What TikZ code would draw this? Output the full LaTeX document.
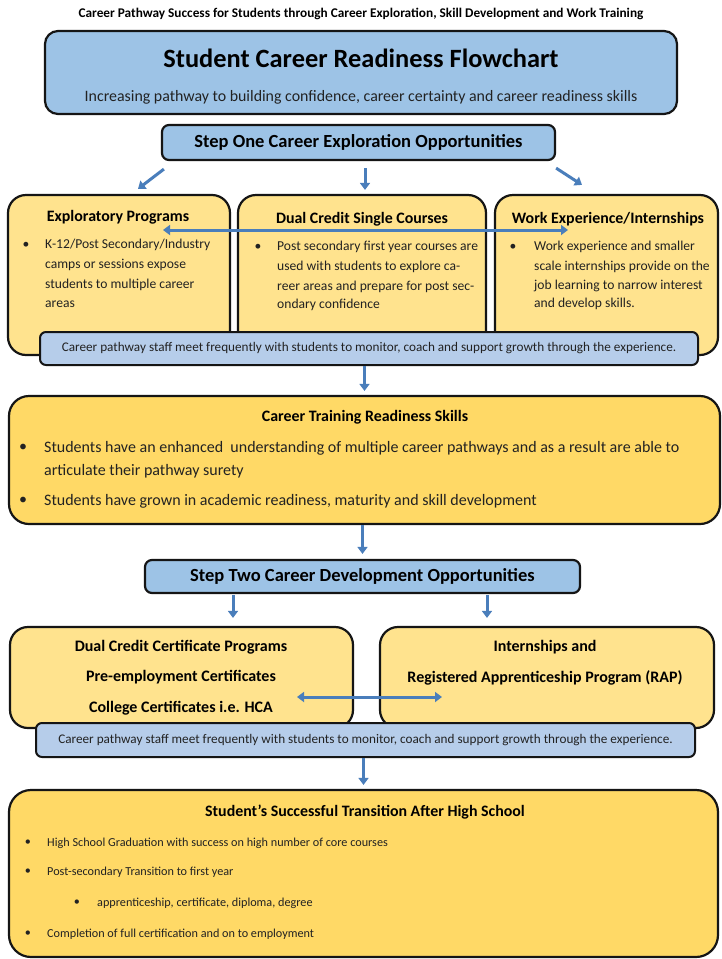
\documentclass[tikz,border=0pt]{standalone}
\usepackage{fontspec}
\setmainfont{Carlito}
\usetikzlibrary{arrows.meta,calc}
\definecolor{bluebox}{HTML}{9DC3E6}
\definecolor{bluestrip}{HTML}{B6CDEA}
\definecolor{yellowlight}{HTML}{FFE38E}
\definecolor{yellowdark}{HTML}{FFD966}
\definecolor{edge}{HTML}{151515}
\definecolor{arrowblue}{HTML}{4A7EBB}
\definecolor{bodytext}{HTML}{222222}
\tikzset{
  box/.style={draw=edge, line width=2.2pt, rounded corners=#1, inner sep=0pt},
  box/.default=14pt,
  arr/.style={draw=arrowblue, line width=3pt, -{Triangle[width=10pt,length=7pt]}},
  darr/.style={draw=arrowblue, line width=3pt, {Triangle[width=10pt,length=7pt]}-{Triangle[width=10pt,length=7pt]}},
  txt/.style={inner sep=0pt, text=bodytext},
  ln/.style={inner sep=0pt, anchor=west, text=bodytext},
  bul/.style={inner sep=0pt, text=bodytext},
  fA/.style={font=\fontsize{13.3}{16}\selectfont\bfseries},
  fTitle/.style={font=\fontsize{26.4}{30}\selectfont\bfseries},
  fSub/.style={font=\fontsize{15.9}{19}\selectfont},
  fStep/.style={font=\fontsize{18.5}{22}\selectfont\bfseries},
  fHead/.style={font=\fontsize{15.9}{19}\selectfont\bfseries},
  fBody/.style={font=\fontsize{13.6}{16}\selectfont},
  fStrip/.style={font=\fontsize{13.2}{16}\selectfont},
  fCT/.style={font=\fontsize{16}{19}\selectfont},
  fCTh/.style={font=\fontsize{15.9}{19}\selectfont\bfseries},
  fLow/.style={font=\fontsize{16}{19}\selectfont\bfseries},
  fFin/.style={font=\fontsize{12.2}{15}\selectfont},
  fFinh/.style={font=\fontsize{15.9}{19}\selectfont\bfseries},
}
\begin{document}
\begin{tikzpicture}[x=1pt,y=-1pt]
\useasboundingbox[fill=white] (0,0) rectangle (721,959);

% caption
\node[txt,fA,text=black] (cap) at (361,14) {Career Pathway Success for Students through Career Exploration, Skill Development and Work Training};

% title box
\node[box=13pt, fill=bluebox, minimum width=632pt, minimum height=83pt] (title) at (361,72.5) {};
\node[txt,fTitle,text=black] (titletxt) at (361,58) {Student Career Readiness Flowchart};
\node[txt,fSub] (subtxt) at (361,97) {Increasing pathway to building confidence, career certainty and career readiness skills};

% step one
\node[box=7pt, fill=bluebox, minimum width=393pt, minimum height=35pt, fStep, text=black] (s1) at (358.5,142.5) {Step One Career Exploration Opportunities};

% three boxes
\node[box=18pt, fill=yellowlight, minimum width=222pt, minimum height=160pt] (b1) at (119,275) {};
\node[box=18pt, fill=yellowlight, minimum width=248pt, minimum height=160pt] (b2) at (362,275) {};
\node[box=18pt, fill=yellowlight, minimum width=223pt, minimum height=160pt] (b3) at (606.5,275) {};

\draw[arr] ([xshift=3pt,yshift=-8pt]s1.south west) -- ([xshift=19pt,yshift=5pt]b1.north);
\draw[arr] ([xshift=6.5pt,yshift=-7pt]s1.south) -- ([xshift=3pt,yshift=4pt]b2.north);
\draw[arr] ([yshift=-7pt]s1.south east) -- ([xshift=-24.5pt,yshift=9pt]b3.north);

\node[txt,fHead,text=black] (h1) at (118,217) {Exploratory Programs};
\node[txt,fHead,text=black] (h2) at (362,219) {Dual Credit Single Courses};
\node[txt,fHead,text=black] (h3) at (608,219) {Work Experience/Internships};

\coordinate (dl) at (163,230);
\coordinate (dr) at (568,230);
\draw[darr] (dl) -- (dr);

\node[bul,fBody] (bu1) at (26,245) {•};
\node[ln,fBody] (l1a) at (45,245) {K-12/Post Secondary/Industry};
\node[ln,fBody] (l1b) at (45,265) {camps or sessions expose};
\node[ln,fBody] (l1c) at (45,285) {students to multiple career};
\node[ln,fBody] (l1d) at (45,304) {areas};

\node[bul,fBody] (bu2) at (258,247) {•};
\node[ln,fBody] (l2a) at (277,247) {Post secondary first year courses are};
\node[ln,fBody] (l2b) at (277,267) {used with students to explore ca-};
\node[ln,fBody] (l2c) at (277,287) {reer areas and prepare for post sec-};
\node[ln,fBody] (l2d) at (277,305) {ondary confidence};

\node[bul,fBody] (bu3) at (513,247) {•};
\node[ln,fBody] (l3a) at (534,247) {Work experience and smaller};
\node[ln,fBody] (l3b) at (534,267) {scale internships provide on the};
\node[ln,fBody] (l3c) at (534,286) {job learning to narrow interest};
\node[ln,fBody] (l3d) at (534,304) {and develop skills.};

% strip 1
\node[box=6pt, line width=2pt, fill=bluestrip, minimum width=658pt, minimum height=33pt, fStrip, text=bodytext] (st1) at (369,348.5) {Career pathway staff meet frequently with students to monitor, coach and support growth through the experience.};

% career training
\node[box=20pt, fill=yellowdark, minimum width=711pt, minimum height=128pt] (ct) at (364.5,460) {};
\draw[arr] (ct.north |- st1.south) -- ([yshift=4pt]ct.north);
\node[txt,fCTh,text=black] (cth) at (365,417) {Career Training Readiness Skills};
\node[bul,fCT] (bu4) at (23,448) {•};
\node[ln,fCT] (l4a) at (44,448) {Students have an enhanced\ \ understanding of multiple career pathways and as a result are able to};
\node[ln,fCT] (l4b) at (44,471) {articulate their pathway surety};
\node[bul,fCT] (bu5) at (23,501) {•};
\node[ln,fCT] (l5a) at (44,501) {Students have grown in academic readiness, maturity and skill development};

% step two
\node[box=7pt, fill=bluebox, minimum width=435pt, minimum height=33pt, fStep, text=black] (s2) at (362.5,576.5) {Step Two Career Development Opportunities};
\draw[arr] (s2.north |- ct.south) -- ([yshift=5pt]s2.north);

% lower boxes
\node[box=18pt, fill=yellowlight, minimum width=343pt, minimum height=101pt] (ba) at (181.5,677.5) {};
\node[box=18pt, fill=yellowlight, minimum width=334pt, minimum height=101pt] (bb) at (547,677.5) {};
\draw[arr] ([xshift=-129.5pt,yshift=-1pt]s2.south) -- ([xshift=51.5pt,yshift=8pt]ba.north);
\draw[arr] ([xshift=124.5pt,yshift=-1pt]s2.south) -- ([xshift=-60pt,yshift=8pt]bb.north);

\node[txt,fLow,text=black] (la1) at (181,647) {Dual Credit Certificate Programs};
\node[txt,fLow,text=black] (la2) at (181,677) {Pre-employment Certificates};
\node[txt,fLow,text=black] (la3) at (181,708) {College Certificates i.e. HCA};
\node[txt,fLow,text=black] (lb1) at (545,647) {Internships and};
\node[txt,fLow,text=black] (lb2) at (545,678) {Registered Apprenticeship Program (RAP)};

\coordinate (el) at (297,697);
\coordinate (er) at (442,697);
\draw[darr] (el) -- (er);

% strip 2
\node[box=6pt, line width=2pt, fill=bluestrip, minimum width=659pt, minimum height=34pt, fStrip, text=bodytext] (st2) at (365.5,740) {Career pathway staff meet frequently with students to monitor, coach and support growth through the experience.};

% final box
\node[box=22pt, fill=yellowdark, minimum width=709pt, minimum height=167pt] (fin) at (363.5,873.5) {};
\draw[arr] (fin.north |- st2.south) -- ([yshift=4pt]fin.north);
\node[txt,fFinh,text=black] (finh) at (365,812) {Student’s Successful Transition After High School};
\node[bul,fFin] (bu6) at (28,843) {•};
\node[ln,fFin] (l6) at (47,843) {High School Graduation with success on high number of core courses};
\node[bul,fFin] (bu7) at (28,872) {•};
\node[ln,fFin] (l7) at (47,872) {Post-secondary Transition to first year};
\node[bul,fFin] (bu8) at (77,903) {•};
\node[ln,fFin] (l8) at (97,903) {apprenticeship, certificate, diploma, degree};
\node[bul,fFin] (bu9) at (28,934) {•};
\node[ln,fFin] (l9) at (47,934) {Completion of full certification and on to employment};
\end{tikzpicture}
\end{document}
